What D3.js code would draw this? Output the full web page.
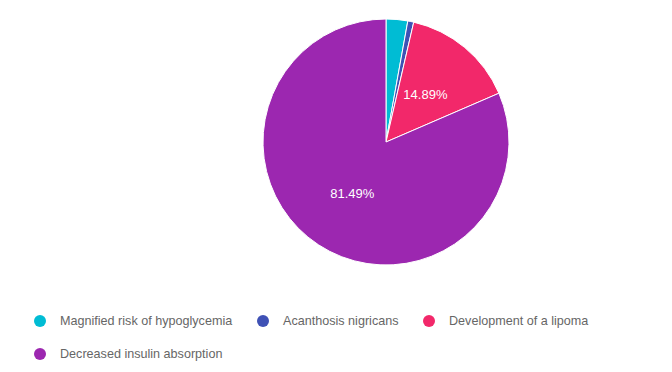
<!DOCTYPE html>
<html>
<head>
<meta charset="utf-8">
<script src="https://cdn.jsdelivr.net/npm/d3@7"></script>
<style>
  body { margin: 0; background: #fff; }
  text { font-family: Arial, "Liberation Sans", sans-serif; }
</style>
</head>
<body>
<div id="chart"></div>
<script>
var width = 672,
    height = 372;

var categories = ["Magnified risk of hypoglycemia", "Acanthosis nigricans", "Development of a lipoma", "Decreased insulin absorption"];
var values = [2.84, 0.78, 14.89, 81.49];
var colors = ["#00bcd4", "#3f51b5", "#f2286a", "#9c27b0"];

var radius = 123;

var svg = d3.select("#chart").append("svg")
    .attr("width", width)
    .attr("height", height);

var data = categories.map(function(c, i) {
    return { name: c, value: values[i], color: colors[i] };
});

var pie = d3.pie()
    .sort(null)
    .value(function(d) { return d.value; });

var arc = d3.arc()
    .innerRadius(0)
    .outerRadius(radius);

var labelArc = d3.arc()
    .innerRadius(radius * 0.5)
    .outerRadius(radius * 0.5);

var g = svg.append("g")
    .attr("transform", "translate(386,142)");

var slices = g.selectAll(".slice")
    .data(pie(data))
    .enter().append("g")
    .attr("class", "slice");

slices.append("path")
    .attr("d", arc)
    .style("fill", function(d) { return d.data.color; })
    .style("stroke", "#fff")
    .style("stroke-width", 1);

slices.filter(function(d) { return d.data.value > 5; })
    .append("text")
    .attr("transform", function(d) { return "translate(" + labelArc.centroid(d) + ")"; })
    .attr("text-anchor", "middle")
    .attr("dy", "0.35em")
    .style("fill", "#fff")
    .style("font-size", "13px")
    .text(function(d) { return d.data.value.toFixed(2) + "%"; });

// legend
var legendPos = [[40, 321], [263, 321], [429, 321], [40, 354]];

var legend = svg.selectAll(".legend")
    .data(data)
    .enter().append("g")
    .attr("class", "legend")
    .attr("transform", function(d, i) { return "translate(" + legendPos[i][0] + "," + legendPos[i][1] + ")"; });

legend.append("circle")
    .attr("r", 6)
    .style("fill", function(d) { return d.color; });

legend.append("text")
    .attr("x", 20)
    .attr("dy", "0.35em")
    .style("fill", "#666")
    .style("font-size", "12.6px")
    .text(function(d) { return d.name; });
</script>
</body>
</html>
